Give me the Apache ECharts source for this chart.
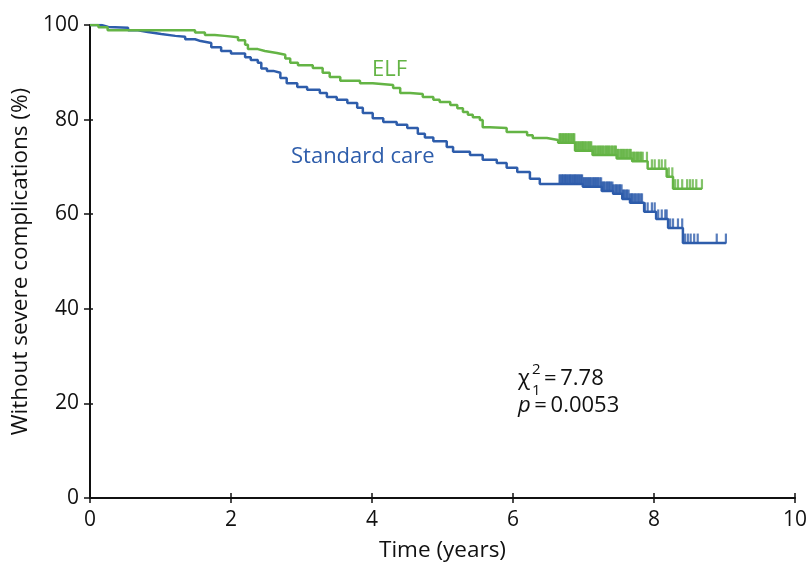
<!DOCTYPE html>
<html>
<head>
<meta charset="utf-8">
<script src="https://cdn.jsdelivr.net/npm/echarts@6/dist/echarts.min.js"></script>
<style>
  html, body { margin: 0; padding: 0; background: #fff; }
  #chart { width: 809px; height: 563px; }
</style>
</head>
<body>
<div id="chart"></div>
<script>
// Kaplan–Meier estimates: [time in years, % without severe complications]
// Each point gives the level that starts at that time.
const elfSteps = [
  [0, 100], [0.12, 99.5], [0.25, 98.9], [1.49, 98.4], [1.63, 97.9], [1.77, 97.7],
  [1.91, 97.4], [2.10, 96.8], [2.20, 95.8], [2.24, 94.9], [2.38, 94.5], [2.48, 94.1],
  [2.65, 93.7], [2.77, 92.9], [2.84, 92.0], [2.95, 91.5], [3.16, 90.9], [3.30, 89.9],
  [3.40, 89.0], [3.55, 88.2], [3.83, 87.7], [4.01, 87.3], [4.30, 86.7], [4.40, 85.6],
  [4.54, 85.4], [4.72, 84.8], [4.87, 84.2], [4.96, 83.7], [5.11, 83.1], [5.21, 82.4],
  [5.29, 81.6], [5.36, 81.0], [5.43, 80.5], [5.53, 79.9], [5.57, 78.4], [5.67, 78.2],
  [5.91, 77.4], [6.20, 76.7], [6.28, 76.1], [6.48, 75.7], [6.64, 75.1], [6.88, 73.4],
  [7.13, 72.5], [7.47, 71.8], [7.69, 71.2], [7.91, 69.6], [8.18, 67.9], [8.27, 65.4]
];
const elfEnd = 8.68;

const careSteps = [
  [0, 100], [0.16, 99.6], [0.26, 99.4], [0.54, 98.9], [0.68, 98.5], [0.82, 98.1],
  [1.01, 97.7], [1.21, 97.5], [1.35, 97.0], [1.49, 96.6], [1.57, 96.2], [1.72, 95.3],
  [1.86, 94.5], [2.00, 94.0], [2.20, 93.2], [2.28, 92.6], [2.38, 92.0], [2.43, 90.8],
  [2.51, 90.3], [2.60, 89.9], [2.70, 88.8], [2.79, 87.7], [2.94, 86.9], [3.08, 86.3],
  [3.26, 85.6], [3.36, 84.8], [3.50, 84.2], [3.65, 83.5], [3.79, 82.5], [3.87, 81.4],
  [4.01, 80.3], [4.16, 79.5], [4.35, 78.9], [4.50, 78.2], [4.65, 77.0], [4.75, 76.2],
  [4.87, 75.4], [5.06, 74.2], [5.15, 73.2], [5.39, 72.5], [5.57, 71.5], [5.77, 70.8],
  [5.91, 69.8], [6.06, 68.9], [6.24, 67.5], [6.38, 66.4], [6.99, 65.8], [7.26, 64.9],
  [7.42, 64.3], [7.55, 63.2], [7.66, 62.4], [7.86, 60.5], [8.03, 59.0], [8.20, 57.1],
  [8.41, 53.9]
];
const careEnd = 9.02;

// Censoring times (years)
const elfCensored = [
  6.66, 6.67, 6.68, 6.70, 6.71, 6.72, 6.74, 6.75, 6.76, 6.78, 6.79, 6.80, 6.82, 6.83,
  6.85, 6.86, 6.87, 6.89, 6.90, 6.92, 6.93, 6.95, 6.96, 6.98, 6.99, 7.00, 7.02, 7.03,
  7.05, 7.07, 7.08, 7.10, 7.11, 7.13, 7.14, 7.16, 7.17, 7.19, 7.21, 7.22, 7.24, 7.25,
  7.27, 7.28, 7.30, 7.32, 7.33, 7.35, 7.36, 7.38, 7.40, 7.41, 7.43, 7.45, 7.46, 7.48,
  7.49, 7.51, 7.53, 7.54, 7.56, 7.57, 7.59, 7.61, 7.62, 7.64, 7.66, 7.67, 7.69, 7.71,
  7.72, 7.74, 7.76, 7.77, 7.79, 7.81, 7.82, 7.84, 7.90, 7.97, 8.01, 8.07, 8.11, 8.16,
  8.21, 8.26, 8.30, 8.34, 8.40, 8.47, 8.51, 8.55, 8.60, 8.68
];
const careCensored = [
  6.66, 6.67, 6.69, 6.70, 6.71, 6.73, 6.74, 6.75, 6.77, 6.78, 6.80, 6.81, 6.82, 6.84,
  6.85, 6.87, 6.88, 6.89, 6.91, 6.92, 6.94, 6.95, 6.97, 6.98, 7.00, 7.01, 7.03, 7.04,
  7.06, 7.07, 7.09, 7.10, 7.12, 7.14, 7.15, 7.17, 7.18, 7.20, 7.21, 7.23, 7.25, 7.26,
  7.28, 7.29, 7.31, 7.33, 7.34, 7.36, 7.37, 7.39, 7.41, 7.42, 7.44, 7.46, 7.47, 7.49,
  7.51, 7.52, 7.54, 7.56, 7.57, 7.59, 7.61, 7.62, 7.64, 7.66, 7.68, 7.69, 7.71, 7.73,
  7.75, 7.77, 7.79, 7.81, 7.83, 7.87, 7.91, 7.97, 8.01, 8.06, 8.11, 8.16, 8.18, 8.23,
  8.27, 8.34, 8.40, 8.44, 8.48, 8.52, 8.57, 8.62, 8.89, 9.02
];

const xTicks = [0, 2, 4, 6, 8, 10];
const yTicks = [0, 20, 40, 60, 80, 100];

const GREEN = '#64b445';
const BLUE = '#2e5dab';
const INK = '#111';
const FONT = '"Open Sans", "Noto Sans", sans-serif';

function curve(steps, end) {
  return steps.concat([[end, steps[steps.length - 1][1]]]);
}
function levelAt(steps, t) {
  let v = steps[0][1];
  for (const [s, y] of steps) { if (s <= t) v = y; else break; }
  return v;
}
function censorPoints(steps, times) {
  return times.map(t => [t, levelAt(steps, t)]);
}

const chart = echarts.init(document.getElementById('chart'));

const tickLabel = { fontFamily: FONT, fontSize: 21, color: INK };
const axisName = { fontFamily: FONT, fontSize: 22.5, color: INK };
const censorMark = { symbol: 'rect', symbolSize: [2.2, 10], symbolOffset: [0, -4.5] };

chart.setOption({
  animation: false,
  grid: { left: 90, right: 14, top: 25, bottom: 65, outerBoundsMode: 'none' },
  xAxis: [
    {
      type: 'value', min: xTicks[0], max: xTicks[xTicks.length - 1], interval: 2,
      name: 'Time (years)', nameLocation: 'middle', nameGap: 41,
      nameTextStyle: axisName,
      axisLine: { lineStyle: { color: INK, width: 2 } },
      axisTick: { show: true, length: 5, lineStyle: { color: INK, width: 1.5 } },
      axisLabel: Object.assign({ margin: 12 }, tickLabel),
      splitLine: { show: false }
    },
    {
      type: 'value', min: xTicks[0], max: xTicks[xTicks.length - 1], interval: 2,
      position: 'bottom',
      axisLine: { show: false },
      axisTick: { show: true, inside: true, length: 5, lineStyle: { color: INK, width: 1.5 } },
      axisLabel: { show: false },
      splitLine: { show: false }
    }
  ],
  yAxis: [
    {
      type: 'value', min: yTicks[0], max: yTicks[yTicks.length - 1], interval: 20,
      name: 'Without severe complications (%)', nameLocation: 'middle', nameGap: 58,
      nameTextStyle: axisName,
      axisLine: { lineStyle: { color: INK, width: 2 } },
      axisTick: { show: true, length: 6, lineStyle: { color: INK, width: 1.5 } },
      axisLabel: Object.assign({ margin: 11 }, tickLabel),
      splitLine: { show: false }
    },
    {
      type: 'value', min: yTicks[0], max: yTicks[yTicks.length - 1], interval: 20,
      position: 'left',
      axisLine: { show: false },
      axisTick: { show: true, inside: true, length: 3, lineStyle: { color: INK, width: 1.5 } },
      axisLabel: { show: false },
      splitLine: { show: false }
    }
  ],
  series: [
    {
      name: 'Standard care', type: 'line', step: 'end', showSymbol: false,
      data: curve(careSteps, careEnd),
      lineStyle: { color: BLUE, width: 2.5 }, z: 3
    },
    {
      name: 'ELF', type: 'line', step: 'end', showSymbol: false,
      data: curve(elfSteps, elfEnd),
      lineStyle: { color: GREEN, width: 2.5 }, z: 4
    },
    Object.assign({
      name: 'Standard care censored', type: 'scatter',
      data: censorPoints(careSteps, careCensored),
      itemStyle: { color: BLUE }, z: 3
    }, censorMark),
    Object.assign({
      name: 'ELF censored', type: 'scatter',
      data: censorPoints(elfSteps, elfCensored),
      itemStyle: { color: GREEN }, z: 4
    }, censorMark)
  ],
  graphic: [
    { type: 'text', left: 372, top: 59,
      style: { text: 'ELF', fontFamily: FONT, fontSize: 22, fill: GREEN } },
    { type: 'text', left: 291, top: 146,
      style: { text: 'Standard care', fontFamily: FONT, fontSize: 22, fill: BLUE } },
    // log-rank statistic
    { type: 'text', left: 518, top: 368,
      style: { text: 'χ', fontFamily: FONT, fontSize: 22, fill: INK } },
    { type: 'text', left: 532, top: 362,
      style: { text: '2', fontFamily: FONT, fontSize: 15, fill: INK } },
    { type: 'text', left: 532, top: 383,
      style: { text: '1', fontFamily: FONT, fontSize: 15, fill: INK } },
    { type: 'text', left: 544, top: 368,
      style: { text: '=\u20097.78', fontFamily: FONT, fontSize: 22, fill: INK } },
    { type: 'text', left: 518, top: 395,
      style: {
        rich: {
          i: { fontFamily: FONT, fontSize: 22, fontStyle: 'italic', fill: INK },
          n: { fontFamily: FONT, fontSize: 22, fill: INK }
        },
        text: '{i|p}{n|\u2009=\u20090.0053}'
      } }
  ]
});
</script>
</body>
</html>
